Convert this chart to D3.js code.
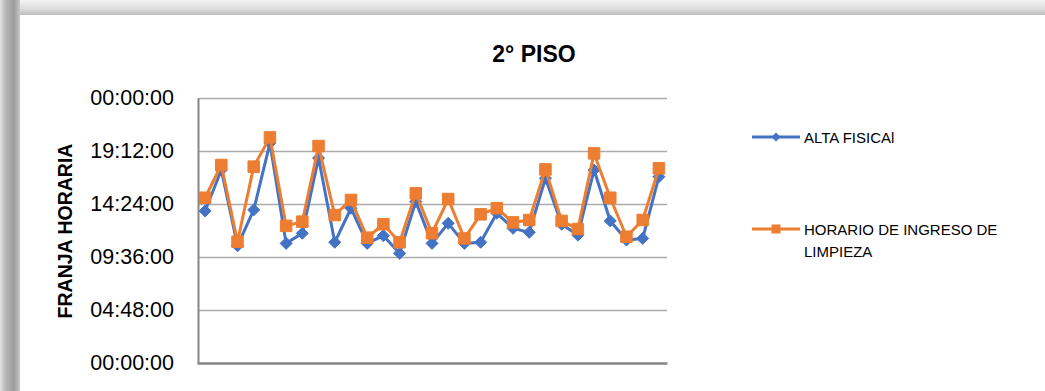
<!DOCTYPE html>
<html>
<head>
<meta charset="utf-8">
<script src="https://cdn.jsdelivr.net/npm/d3@7/dist/d3.min.js"></script>
<style>
  html, body { margin: 0; padding: 0; background: #fff; }
  svg { display: block; }
  text { font-family: "Liberation Sans", Arial, sans-serif; }
</style>
</head>
<body>
<svg id="chart" width="1045" height="391"></svg>
<script>
// Days 1..29 on the 2nd floor
const categories = d3.range(1, 30);

// Physical discharge time (ALTA FISICAl), HH:MM
const altaFisica = [
  "13:46", "17:29", "10:37", "13:52", "19:55", "10:50", "11:45", "18:34", "10:56", "14:01",
  "10:50", "11:32", "09:56", "14:37", "10:50", "12:39", "10:50", "10:56", "13:34", "12:12",
  "11:50", "16:44", "12:34", "11:35", "17:29", "12:52", "11:08", "11:17", "16:52"
];

// Cleaning staff entry time (HORARIO DE INGRESO DE LIMPIEZA), HH:MM
const ingresoLimpieza = [
  "14:58", "17:56", "10:59", "17:47", "20:26", "12:25", "12:48", "19:39", "13:24", "14:46",
  "11:21", "12:34", "10:56", "15:22", "11:45", "14:51", "11:17", "13:28", "14:01", "12:44",
  "12:57", "17:32", "12:52", "12:08", "18:59", "14:58", "11:26", "12:57", "17:38"
];

// Y axis ticks, as fractions of a day
const yTicks = [0, 0.2, 0.4, 0.6, 0.8, 1.0];

const seriesNames = ["ALTA FISICAl", "HORARIO DE INGRESO DE LIMPIEZA"];
const colors = ["#4472C4", "#ED7D31"];

// "HH:MM" -> fraction of a day
const toDay = s => { const [h, m] = s.split(":").map(Number); return (h + m / 60) / 24; };
const fmtTick = v => {
  const totalSec = Math.round(v * 86400) % 86400;
  const h = Math.floor(totalSec / 3600), m = Math.floor((totalSec % 3600) / 60), s = totalSec % 60;
  return [h, m, s].map(n => String(n).padStart(2, "0")).join(":");
};

const svg = d3.select("#chart");
const W = 1045, H = 391;

// Frame: gray drop-shadow edges around a white panel
const defs = svg.append("defs");
const gL = defs.append("linearGradient").attr("id", "shadeL").attr("x1", 0).attr("x2", 1).attr("y1", 0).attr("y2", 0);
gL.append("stop").attr("offset", "0%").attr("stop-color", "#e4e4e4");
gL.append("stop").attr("offset", "30%").attr("stop-color", "#b4b4b4");
gL.append("stop").attr("offset", "70%").attr("stop-color", "#9c9c9c");
gL.append("stop").attr("offset", "100%").attr("stop-color", "#c8c8c8");
const gT = defs.append("linearGradient").attr("id", "shadeT").attr("x1", 0).attr("x2", 0).attr("y1", 0).attr("y2", 1);
gT.append("stop").attr("offset", "0%").attr("stop-color", "#f4f4f4");
gT.append("stop").attr("offset", "60%").attr("stop-color", "#dcdcdc");
gT.append("stop").attr("offset", "100%").attr("stop-color", "#bdbdbd");

svg.append("rect").attr("x", 0).attr("y", 0).attr("width", W).attr("height", 15).attr("fill", "url(#shadeT)");
svg.append("rect").attr("x", 0).attr("y", 0).attr("width", 20).attr("height", H).attr("fill", "url(#shadeL)");
svg.append("rect").attr("x", 20).attr("y", 15).attr("width", W - 20).attr("height", H - 15).attr("fill", "#ffffff");

// Scales
const x = d3.scaleBand().domain(categories).range([197, 667]);
const y = d3.scaleLinear().domain([0, 1]).range([363, 98]);
const cx = d => x(d) + x.bandwidth() / 2;

// Gridlines
svg.append("g")
  .attr("transform", "translate(198,0)")
  .call(d3.axisLeft(y).tickValues(yTicks.filter(v => v > 0)).tickSize(-469).tickFormat(""))
  .call(g => g.select(".domain").remove())
  .call(g => g.selectAll("line").attr("stroke", "#ababab").attr("stroke-width", 1.5));

// Y axis with labels
svg.append("g")
  .attr("transform", "translate(198,0)")
  .call(d3.axisLeft(y).tickValues(yTicks).tickFormat(fmtTick).tickSize(0).tickPadding(24))
  .call(g => g.select(".domain").attr("stroke", "#868686").attr("stroke-width", 2))
  .call(g => g.selectAll("text")
    .attr("font-family", "'Liberation Sans', Arial, sans-serif")
    .attr("font-size", 21.5).attr("fill", "#000"));

// X axis (no labels)
svg.append("g")
  .attr("transform", "translate(0,363)")
  .call(d3.axisBottom(x).tickSize(0).tickFormat(""))
  .call(g => g.select(".domain").attr("stroke", "#868686").attr("stroke-width", 2.5));

// Title
svg.append("text").attr("x", 534).attr("y", 62).attr("text-anchor", "middle")
  .attr("font-weight", "bold").attr("font-size", 23).attr("fill", "#000").text("2° PISO");

// Axis title
svg.append("text").attr("transform", "translate(72,231) rotate(-90)").attr("text-anchor", "middle")
  .attr("font-weight", "bold").attr("font-size", 19.5).attr("fill", "#000").text("FRANJA HORARIA");

const diamond = r => `M0,${-r}L${r},0L0,${r}L${-r},0Z`;
const square = s => `M${-s / 2},${-s / 2}h${s}v${s}h${-s}Z`;
const markers = [diamond(6), square(11.5)];

const data = [altaFisica.map(toDay), ingresoLimpieza.map(toDay)];
const line = d3.line().x((d, i) => cx(categories[i])).y(d => y(d));

data.forEach((vals, si) => {
  const g = svg.append("g");
  g.append("path").datum(vals).attr("d", line)
    .attr("fill", "none").attr("stroke", colors[si]).attr("stroke-width", 3).attr("stroke-linejoin", "round");
  g.selectAll("path.m").data(vals).join("path").attr("class", "m")
    .attr("d", markers[si])
    .attr("transform", (d, i) => `translate(${cx(categories[i])},${y(d)})`)
    .attr("fill", colors[si]).attr("stroke", colors[si]).attr("stroke-width", 1);
});

// Legend
const legendRows = [
  { y: 137, lines: [seriesNames[0]] },
  { y: 229, lines: ["HORARIO DE INGRESO DE", "LIMPIEZA"] }
];
legendRows.forEach((row, i) => {
  const g = svg.append("g");
  g.append("line").attr("x1", 752).attr("x2", 800).attr("y1", row.y).attr("y2", row.y)
    .attr("stroke", colors[i]).attr("stroke-width", 3);
  g.append("path").attr("d", i === 0 ? diamond(4.5) : square(9))
    .attr("transform", `translate(776,${row.y})`).attr("fill", colors[i]);
  row.lines.forEach((t, j) => {
    g.append("text").attr("x", 804).attr("y", row.y + 6 + j * 22)
      .attr("font-size", 15).attr("fill", "#000").text(t);
  });
});
</script>
</body>
</html>
